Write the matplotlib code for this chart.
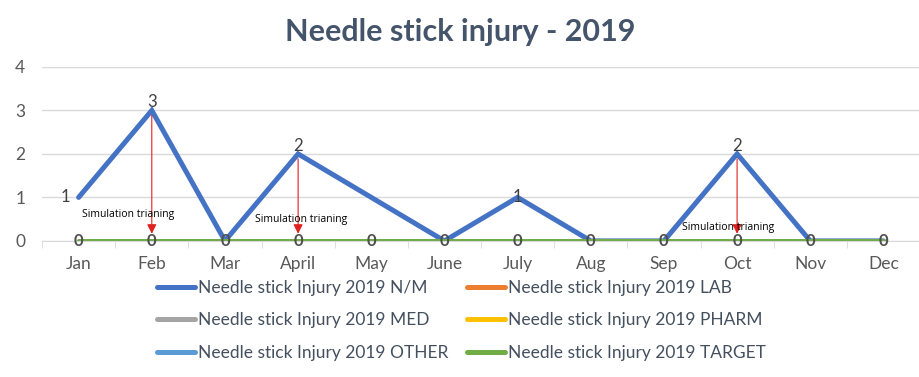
import matplotlib.pyplot as plt
import numpy as np

months = ["Jan", "Feb", "Mar", "April", "May", "June", "July", "Aug", "Sep", "Oct", "Nov", "Dec"]
nm = [1, 3, 0, 2, 1, 0, 1, 0, 0, 2, 0, 0]
lab = [0] * 12
med = [0] * 12
pharm = [0] * 12
other = [0] * 12
target = [0] * 12

series_names = ["Needle stick Injury 2019 N/M", "Needle stick Injury 2019 LAB",
                "Needle stick Injury 2019 MED", "Needle stick Injury 2019 PHARM",
                "Needle stick Injury 2019 OTHER", "Needle stick Injury 2019 TARGET"]
colors = ["#4472C4", "#ED7D31", "#A5A5A5", "#FFC000", "#5B9BD5", "#70AD47"]

labelled_months = ["Jan", "Feb", "April", "July", "Oct"]
training_months = ["Feb", "April", "Oct"]
training_text = "Simulation trianing"

plt.rcParams['font.family'] = ['Lato', 'DejaVu Sans']

fig = plt.figure(figsize=(9.2, 3.77), dpi=100)
ax = fig.add_axes([0.0457, 0.361, 0.9543, 0.4615])
x = np.arange(len(months))

all_series = [nm, lab, med, pharm, other, target]
order = [1, 2, 3, 4, 0, 5]
handles = [None] * 6
for i in order:
    h, = ax.plot(x, all_series[i], color=colors[i], lw=3.6, solid_capstyle='round',
                 solid_joinstyle='miter', zorder=3 + (i == 5), label=series_names[i])
    handles[i] = h

# data labels
lab_col = "#404040"
for m in labelled_months:
    i = months.index(m)
    v = nm[i]
    if i == 0:
        ax.text(i - 0.12, v, str(v), ha='right', va='center', fontsize=12, color=lab_col)
    elif m == "July":
        ax.text(i, v, str(v), ha='center', va='center', fontsize=12, color=lab_col, zorder=6)
    else:
        ax.text(i, v, str(v), ha='center', va='bottom', fontsize=12, color=lab_col)
for i in x:
    ax.text(i, 0, "0", ha='center', va='center', fontsize=12, fontweight='bold',
            color='#505050', zorder=6)

# annotations
text_pos = {"Feb": (-0.33, 0.6), "April": (0.04, 0.5), "Oct": (-0.12, 0.3)}
for m in training_months:
    i = months.index(m)
    ax.annotate("", xy=(i, 0.1), xytext=(i, nm[i] - 0.05),
                arrowprops=dict(arrowstyle='-|>', color='#E02020', lw=0.8,
                                mutation_scale=14), zorder=7)
    dx, y = text_pos[m]
    ax.text(i + dx, y, training_text, ha='center', va='center', fontsize=7.5,
            family=['Open Sans', 'DejaVu Sans'], color='black', zorder=8)

ax.set_xlim(-0.5, 11.5)
ax.set_ylim(0, 4)
ax.set_yticks(range(5))
ax.set_xticks(x)
ax.set_xticklabels(months)
ax.set_xticks(np.arange(-0.5, 12, 1), minor=True)
ax.grid(axis='y', color='#D9D9D9', lw=1)
ax.set_axisbelow(True)
for s in ['top', 'right', 'left']:
    ax.spines[s].set_visible(False)
ax.spines['bottom'].set_color('#D9D9D9')
ax.tick_params(axis='y', length=0, labelsize=12.5, colors='#595959', pad=12)
ax.tick_params(axis='x', which='major', length=0, labelsize=12.5, colors='#595959', pad=11)
ax.tick_params(axis='x', which='minor', length=5, color='#D9D9D9')

fig.text(0.5, 0.915, "Needle stick injury - 2019", ha='center', va='center',
         fontsize=22, fontweight='bold', color='#44546A')

leg_order = [0, 2, 4, 1, 3, 5]
fig.legend(handles=[handles[k] for k in leg_order],
           labels=[series_names[k] for k in leg_order], ncol=2, loc='upper left',
           bbox_to_anchor=(0.163, 0.276), frameon=False, fontsize=12.5,
           labelcolor='#44505F', handlelength=2.2, handletextpad=0.15,
           columnspacing=1.1, labelspacing=0.95, borderaxespad=0)

fig.savefig("out.png", dpi=100)
